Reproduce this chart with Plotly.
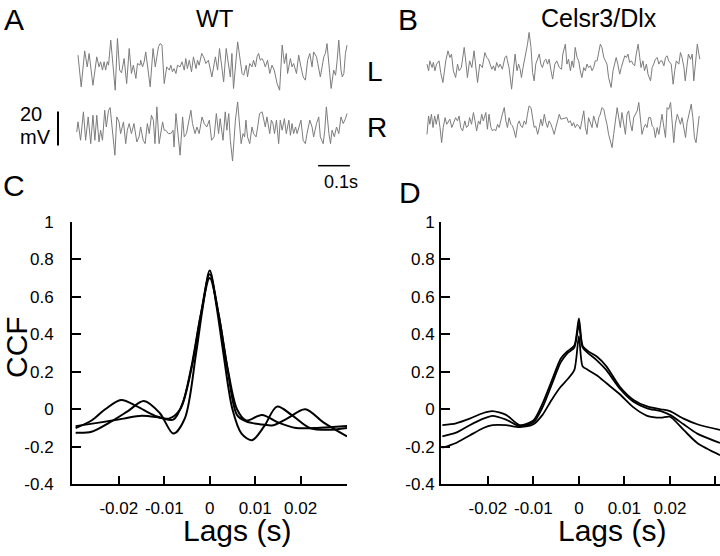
import plotly.graph_objects as go

W, H = 720, 556
FONT = "Liberation Sans, Arial, sans-serif"

# ---------------- EEG traces: (time in ms, potential in mV) ----------------
WT_L = [(0,5.9),(10,-12.7),(21,8.4),(29,-1.0),(35,6.9),(47,-11.8),(59,4.9),(66,-1.0),(71,2.0),(77,-2.9),
        (82,2.0),(87,-2.9),(92,2.0),(96,0),(103,14.7),(110,2.0),(117,-14.7),(124,15.7),(131,-2.9),(137,-4.5),
        (145,3.9),(153,-10.8),(161,9.8),(168,-4.9),(174,0),(182,-7.8),(187,1.0),(195,0),(197,2.9),(203,-1.0),
        (208,2.0),(213,7.8),(221,-2.9),(227,-12.7),(236,9.8),(243,-1.0),(248,4.9),(253,10.8),(258,12.7),(264,11.8),
        (271,-10.8),(279,-1.0),(287,-2.9),(292,0),(297,-3.9),(302,-2.0),(308,-4.9),(313,0),(321,-1.0),(327,2.0),
        (334,-2.9),(339,3.9),(344,-2.0),(350,2.9),(357,-3.9),(363,4.9),(371,-2.0),(376,2.9),(381,0),(389,6.9),
        (395,4.9),(402,1.0),(410,2.9),(416,-2.9),(421,-6.9),(432,4.9),(439,-2.9),(445,9.8),(453,-1.0),(458,-9.8),
        (466,9.8),(474,-1.0),(479,-6.9),(484,6.9),(489,-13.7),(502,13.7),(508,4.9),(516,-4.9),(521,-5.9),(529,0),
        (533,-6.9),(540,1.0),(547,-1.0),(552,2.9),(558,-1.0),(563,4.9),(568,6.9),(573,2.9),(579,3.9),(584,2.0),
        (589,-1.0),(596,2.9),(603,-4.9),(610,0),(617,-2.9),(626,-10.8),(634,-14.7),(642,11.8),(649,1.0),(655,6.9),
        (659,-4.9),(668,3.9),(673,-1.0),(678,1.0),(687,-4.9),(694,5.9),(701,-1.0),(708,-6.9),(715,-8.8),(722,2.9),
        (729,6.9),(736,-1.0),(741,7.8),(750,4.9),(754,1.0),(762,-6.9),(773,4.9),(778,6.9),(783,12.7),(789,1.0),
        (796,-13.7),(804,-2.9),(810,-5.9),(815,2.9),(820,14.7),(827,-2.9),(831,-6.9),(836,-4.9),(841,6.9),(846,11.8)]

WT_R = [(-4,0),(0,5.9),(8,-4.9),(17,11.8),(24,-4.9),(32,8.8),(40,-6.9),(47,9.8),(53,-4.9),(59,9.8),
        (66,-5.9),(71,1.0),(77,-4.9),(84,12.7),(89,2.9),(96,12.7),(101,14.3),(108,-1.0),(116,-13.7),(122,8.8),
        (129,5.9),(134,-1.0),(143,5.9),(150,-6.9),(155,1.0),(161,4.9),(168,-1.0),(176,4.9),(185,-5.9),(192,-2.9),
        (197,2.9),(205,-4.9),(211,-6.9),(218,4.9),(224,-1.0),(231,9.8),(237,6.9),(242,-6.9),(248,14.7),(255,-6.9),
        (260,-1.0),(266,5.9),(271,1.0),(276,1.0),(284,-1.0),(292,-1.0),(299,1.0),(302,-8.8),(308,10.8),(315,-1.0),
        (321,-13.7),(329,8.8),(334,-2.9),(341,-1.0),(347,4.9),(355,12.7),(360,4.9),(368,-1.0),(374,2.9),(381,-1.0),
        (390,8.8),(397,4.9),(405,2.9),(413,6.9),(420,-4.9),(428,-2.9),(435,10.8),(442,-1.0),(447,7.8),(456,-4.9),
        (463,11.8),(468,1.0),(474,10.8),(479,-4.9),(486,-17.1),(495,6.9),(502,17.6),(508,1.0),(513,-6.9),(519,-1.0),
        (524,-2.9),(528,6.9),(533,-2.9),(540,-6.9),(547,2.9),(552,-1.0),(560,-2.9),(565,2.9),(571,10.8),(579,11.8),
        (584,6.9),(589,2.9),(594,8.8),(603,-1.0),(608,6.9),(613,4.9),(618,-1.0),(624,6.9),(631,-6.9),(636,6.9),
        (642,1.0),(649,7.8),(655,-1.0),(663,6.9),(668,-2.0),(673,4.9),(678,-1.0),(684,2.9),(689,-1.0),(694,2.0),
        (701,6.9),(708,-4.9),(715,-6.9),(720,-1.0),(729,6.9),(736,2.9),(741,-2.9),(750,4.9),(757,8.8),(762,-2.9),
        (771,-6.9),(776,1.0),(781,14.7),(789,-1.0),(794,-6.9),(799,1.0),(806,-2.9),(813,2.9),(820,-1.0),(827,8.8),
        (834,4.9),(841,7.8),(846,10.8)]

KO_L = [(0,1.0),(5,-2.9),(9,2.9),(16,-1.0),(20,2.0),(25,-2.9),(30,1.0),(38,2.9),(43,-3.9),(50,-9.8),
        (59,2.9),(66,8.8),(72,4.9),(77,6.9),(83,-2.9),(90,-6.9),(96,1.0),(101,-2.9),(108,-1.0),(117,10.8),
        (123,1.0),(127,-6.9),(134,2.9),(141,-1.0),(148,8.8),(153,-1.0),(159,-9.8),(166,1.0),(174,-1.0),(182,7.8),
        (188,4.9),(193,3.9),(198,1.0),(204,-2.0),(209,0),(214,-2.9),(219,2.0),(225,-1.0),(230,1.0),(237,-2.0),
        (245,4.9),(250,5.9),(253,2.9),(258,-1.0),(266,-13.7),(272,-1.0),(277,6.9),(283,-2.9),(288,1.0),(293,-2.0),
        (297,-6.9),(302,-1.0),(309,4.9),(316,12.7),(321,19.6),(327,10.8),(332,-3.9),(337,-8.8),(342,1.0),(348,4.9),
        (353,6.9),(358,1.0),(363,-1.0),(369,2.9),(374,3.9),(379,1.0),(384,3.9),(390,-2.9),(395,-7.8),(402,1.0),
        (408,2.9),(416,-1.0),(423,-2.0),(427,6.9),(435,12.7),(440,1.0),(445,3.9),(451,-2.9),(456,2.9),(461,-1.0),
        (466,10.8),(472,4.9),(477,2.9),(482,-2.9),(487,-6.9),(493,-1.0),(498,-2.9),(503,1.0),(508,-1.0),(514,0),
        (519,-2.9),(524,-1.0),(529,2.9),(535,2.9),(540,7.8),(545,12.7),(550,10.8),(556,4.9),(561,2.9),(566,1.0),
        (571,-6.9),(579,-12.7),(585,-2.9),(590,1.0),(595,4.9),(600,1.0),(606,-4.9),(611,-1.0),(616,2.9),(622,5.9),
        (627,4.9),(632,6.9),(637,2.0),(643,2.9),(648,1.0),(653,0),(658,6.9),(664,12.7),(669,4.9),(673,-1.0),
        (679,2.9),(684,-2.9),(690,1.0),(695,-4.9),(703,-8.8),(708,-1.0),(713,1.0),(718,3.9),(724,4.9),(729,1.0),
        (734,2.9),(739,2.9),(745,0),(750,4.9),(755,5.9),(760,2.9),(768,1.0),(774,-10.8),(779,-2.9),(784,2.9),
        (792,1.0),(797,7.8),(802,4.9),(808,-1.0),(812,-8.8),(817,1.0),(822,6.9),(829,3.9),(834,6.9),(839,-8.8),
        (844,1.0),(850,12.7),(855,6.9),(858,3.9)]

KO_R = [(0,-6.9),(5,3.9),(9,-1.0),(14,4.9),(19,-2.9),(24,3.9),(29,-1.0),(35,4.9),(41,-2.9),(46,-11.8),
        (51,-2.9),(57,2.9),(62,-1.0),(67,1.0),(72,2.0),(78,-2.9),(83,0),(90,2.9),(96,1.0),(101,3.9),
        (106,-2.9),(112,-4.9),(119,1.0),(124,-2.9),(129,-2.0),(134,2.9),(140,-1.0),(146,5.9),(151,1.0),(156,-4.9),
        (162,1.0),(167,-1.0),(172,4.9),(177,1.0),(185,5.9),(190,-3.9),(195,4.9),(201,-2.9),(206,-4.9),(211,-3.9),
        (216,-4.9),(222,-1.0),(227,-2.9),(232,2.0),(237,4.9),(243,8.8),(248,1.0),(253,-2.9),(258,2.9),(264,-1.0),
        (269,-2.0),(274,-4.9),(279,-8.8),(285,-1.0),(290,1.0),(295,-2.0),(300,-2.9),(306,1.0),(311,-1.0),(316,4.9),
        (321,9.8),(327,8.8),(332,2.9),(337,-2.9),(342,-2.0),(348,-6.9),(353,-2.9),(358,2.0),(363,-2.0),(369,4.9),
        (374,0),(379,-2.9),(384,1.0),(390,-1.0),(395,-3.9),(400,-6.9),(405,-2.9),(411,2.0),(416,4.9),(421,2.0),
        (440,2.9),(445,0),(451,1.0),(456,-2.0),(461,0),(466,-2.9),(472,-1.0),(477,-2.0),(482,-3.9),(487,1.0),
        (493,6.9),(498,-2.9),(503,-6.9),(508,2.9),(514,-1.0),(519,-2.9),(524,3.9),(529,1.0),(535,-2.9),(540,2.9),
        (545,4.9),(550,8.8),(556,7.8),(561,2.9),(566,-1.0),(571,-6.9),(577,-11.8),(582,-14.7),(587,-6.9),(592,1.0),
        (598,8.8),(603,2.9),(608,-2.9),(613,5.9),(619,0),(624,-6.9),(629,4.9),(634,6.9),(640,-1.0),(645,-4.9),
        (650,2.9),(655,4.9),(661,6.9),(666,11.8),(671,1.0),(676,-6.9),(682,-2.9),(687,-1.0),(692,-2.9),(697,2.9),
        (703,2.9),(708,-2.0),(713,-2.9),(718,-8.8),(724,-2.9),(729,-6.9),(734,-1.0),(739,4.9),(745,-2.9),(750,-8.8),
        (755,8.8),(760,7.8),(766,11.8),(771,-2.9),(776,-11.8),(781,-1.0),(787,4.9),(792,2.0),(797,-1.0),(802,2.9),
        (808,-2.9),(813,-8.8),(818,0),(823,3.9),(831,10.8),(836,2.9),(841,-8.8),(846,-11.8),(852,-2.9),(856,3.9)]

# ---------------- Cross-correlation functions: (lag in s, CCF) ----------------
WT_CCF_1 = [(-0.0295,-0.10),(-0.026,-0.06),(-0.023,0.0),(-0.0195,0.05),(-0.016,0.015),(-0.012,-0.035),
            (-0.009,-0.05),(-0.0065,0.0),(-0.004,0.22),(-0.002,0.5),(0,0.72),(0.002,0.5),(0.004,0.2),
            (0.006,-0.03),(0.008,-0.065),(0.011,-0.08),(0.014,-0.085),(0.017,-0.05),(0.021,0.0),
            (0.025,-0.07),(0.0302,-0.145)]
WT_CCF_2 = [(-0.0295,-0.125),(-0.026,-0.12),(-0.022,-0.07),(-0.018,-0.01),(-0.0145,0.044),(-0.011,-0.02),
            (-0.008,-0.13),(-0.0055,-0.05),(-0.003,0.3),(-0.0015,0.55),(0,0.74),(0.0015,0.55),(0.003,0.3),
            (0.005,0.0),(0.007,-0.13),(0.0093,-0.165),(0.012,-0.09),(0.0148,0.014),(0.018,-0.03),
            (0.022,-0.10),(0.026,-0.11),(0.0302,-0.10)]
WT_CCF_3 = [(-0.0295,-0.09),(-0.024,-0.07),(-0.019,-0.05),(-0.015,-0.035),(-0.011,-0.045),(-0.008,-0.055),
            (-0.006,0.03),(-0.004,0.23),(-0.002,0.5),(0,0.70),(0.002,0.5),(0.004,0.21),(0.006,0.0),
            (0.008,-0.06),(0.0115,-0.03),(0.015,-0.07),(0.019,-0.1),(0.023,-0.1),(0.027,-0.095),(0.0302,-0.09)]

KO_LAGS = [-0.030,-0.027,-0.024,-0.021,-0.019,-0.016,-0.013,-0.010,-0.008,-0.006,-0.004,-0.0025,-0.001,
           0,0.0008,0.002,0.004,0.006,0.009,0.012,0.015,0.018,0.020,0.023,0.026,0.031]
KO_CCF_1 = [-0.085,-0.075,-0.05,-0.02,-0.01,-0.03,-0.085,-0.06,0.03,0.15,0.27,0.31,0.34,0.485,0.34,0.31,
            0.28,0.23,0.12,0.05,0.015,0.0,-0.01,-0.05,-0.08,-0.11]
KO_CCF_2 = [-0.145,-0.125,-0.085,-0.05,-0.035,-0.055,-0.09,-0.07,0.01,0.13,0.25,0.30,0.33,0.45,0.33,0.30,
            0.26,0.21,0.11,0.04,0.005,-0.01,-0.03,-0.08,-0.13,-0.18]
KO_CCF_3 = [-0.205,-0.18,-0.14,-0.10,-0.085,-0.085,-0.095,-0.08,-0.03,0.05,0.12,0.16,0.21,0.39,0.23,0.21,
            0.18,0.14,0.08,0.01,-0.035,-0.045,-0.04,-0.11,-0.18,-0.245]

Y_TICKS = [-0.4, -0.2, 0, 0.2, 0.4, 0.6, 0.8, 1]
Y_TICKTEXT = ["-0.4", "-0.2", "0", "0.2", "0.4", "0.6", "0.8", "1"]
X_TICKS = [-0.02, -0.01, 0, 0.01, 0.02, 0.03]
X_TICKTEXT = ["-0.02", "-0.01", "0", "0.01", "0.02", ""]

SCALE_MV = 20
SCALE_MS = 100

# vertical placement correction (layout only)
Y_OFF, Y_SCALE = 9.6, 0.964


def px(x):
    return x / W


def py(y):
    return 1 - ((y - Y_OFF) / Y_SCALE) / H


fig = go.Figure()

TRACE_COLOR = "#7c7c7c"
for data, xa, ya in [(WT_L, "x", "y"), (WT_R, "x", "y2"), (KO_L, "x2", "y3"), (KO_R, "x2", "y4")]:
    fig.add_trace(go.Scatter(x=[p[0] for p in data], y=[p[1] for p in data], mode="lines",
                             line=dict(color=TRACE_COLOR, width=1), xaxis=xa, yaxis=ya,
                             showlegend=False, hoverinfo="skip"))

for data in [WT_CCF_1, WT_CCF_2, WT_CCF_3]:
    fig.add_trace(go.Scatter(x=[p[0] for p in data], y=[p[1] for p in data], mode="lines",
                             line=dict(color="black", width=2, shape="spline", smoothing=0.9),
                             xaxis="x3", yaxis="y5", showlegend=False))

for vals in [KO_CCF_1, KO_CCF_2, KO_CCF_3]:
    fig.add_trace(go.Scatter(x=KO_LAGS, y=vals, mode="lines",
                             line=dict(color="black", width=1.8, shape="spline", smoothing=0.7),
                             xaxis="x4", yaxis="y6", showlegend=False))

hidden = dict(visible=False, showgrid=False, zeroline=False, fixedrange=True)


def ccf_x(domain, rng, anchor):
    return dict(domain=domain, range=rng, anchor=anchor, showgrid=False, zeroline=False,
                showline=True, linecolor="black", linewidth=2, ticks="inside", ticklen=8,
                tickwidth=2, tickcolor="black", tickvals=X_TICKS, ticktext=X_TICKTEXT,
                tickfont=dict(family=FONT, size=17, color="black"), ticklabelstandoff=7)


def ccf_y(domain, anchor, standoff):
    return dict(domain=domain, range=[-0.4005, 1.0005], anchor=anchor, showgrid=False,
                zeroline=False, showline=True, linecolor="black", linewidth=2, ticks="inside",
                ticklen=9, tickwidth=2, tickcolor="black", tickvals=Y_TICKS, ticktext=Y_TICKTEXT,
                tickfont=dict(family=FONT, size=17, color="black"), ticklabelstandoff=standoff)


fig.update_layout(
    width=W, height=H, margin=dict(l=0, r=0, t=0, b=0),
    paper_bgcolor="white", plot_bgcolor="rgba(0,0,0,0)",
    font=dict(family=FONT, color="black"),
    xaxis=dict(domain=[px(74), px(352)], range=[-12.6, 861.6], anchor="y2", **hidden),
    yaxis=dict(domain=[py(100), py(30)], range=[-20.2, 21], anchor="x", **hidden),
    yaxis2=dict(domain=[py(170), py(100)], range=[-22.2, 19], anchor="x", **hidden),
    xaxis2=dict(domain=[px(420), px(705)], range=[-22, 874.2], anchor="y4", **hidden),
    yaxis3=dict(domain=[py(100), py(25)], range=[-19.8, 24.3], anchor="x2", **hidden),
    yaxis4=dict(domain=[py(165), py(100)], range=[-24.7, 13.5], anchor="x2", **hidden),
    xaxis3=ccf_x([px(72), px(347)], [-0.0303, 0.0302], "y5"),
    yaxis5=ccf_y([py(484), py(222)], "x3", 13),
    xaxis4=ccf_x([px(441), 1.0], [-0.0303, 0.031], "y6"),
    yaxis6=ccf_y([py(484), py(222)], "x4", 1),
)

# scale bars
fig.add_shape(type="line", xref="paper", yref="y2", x0=px(58), x1=px(58), y0=-8, y1=-8 + SCALE_MV,
              line=dict(color="black", width=2))
fig.add_shape(type="line", xref="x", yref="paper", x0=755, x1=755 + SCALE_MS, y0=py(166), y1=py(166),
              line=dict(color="black", width=1.5))


def label(text, x, y, size, angle=0):
    fig.add_annotation(text=text, x=px(x), y=py(y), xref="paper", yref="paper", showarrow=False,
                       xanchor="center", yanchor="middle", textangle=angle,
                       font=dict(family=FONT, size=size, color="black"))


label("A", 14, 20, 30)
label("B", 408, 20, 30)
label("C", 14, 186, 30)
label("D", 410, 193, 30)
label("WT", 215, 19, 24)
label("Celsr3/Dlx", 599, 19, 25)
label("L", 375, 72, 28)
label("R", 377, 128, 28)
label("20", 31, 114, 20)
label("mV", 35, 137, 20)
label("0.1s", 341, 182, 18)
label("CCF", 16, 347, 30, -90)
label("Lags (s)", 237, 530, 30)
label("Lags (s)", 612, 530, 30)

fig.write_html("out.html", config={"displayModeBar": False},
               post_script="document.body.style.margin='0px';")
